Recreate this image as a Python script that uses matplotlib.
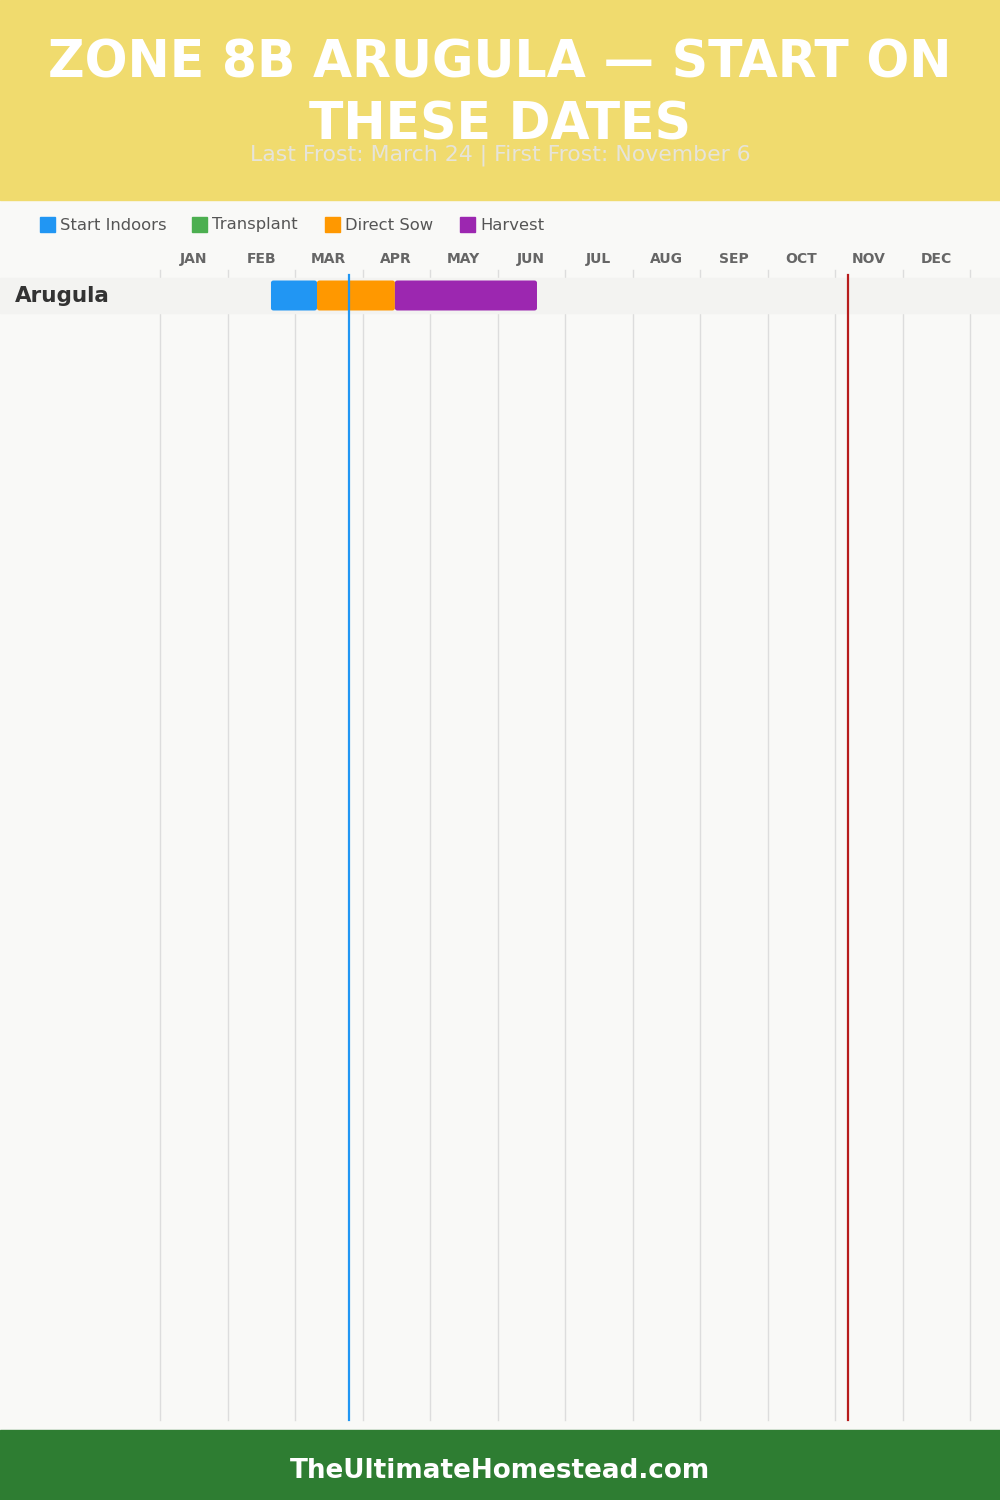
import matplotlib
matplotlib.use("Agg")
import matplotlib.pyplot as plt
from matplotlib.patches import Rectangle, FancyBboxPatch

# ---------------- data ----------------
title_lines = ["ZONE 8B ARUGULA — START ON", "THESE DATES"]
subtitle = "Last Frost: March 24 | First Frost: November 6"
footer = "TheUltimateHomestead.com"
months = ["JAN", "FEB", "MAR", "APR", "MAY", "JUN", "JUL", "AUG", "SEP", "OCT", "NOV", "DEC"]
legend_labels = ["Start Indoors", "Transplant", "Direct Sow", "Harvest"]
legend_colors = ["#2196F3", "#4CAF50", "#FF9800", "#9C27B0"]
crops = ["Arugula"]
# phases per crop, positions in months from Jan 1
phase_names = ["Start Indoors", "Direct Sow", "Harvest"]
phase_start = [1.644, 2.326, 3.48]
phase_end = [2.326, 3.48, 5.585]
last_frost_pos = 2.80
first_frost_pos = 10.19

# ---------------- layout ----------------
W, H = 1000, 1500
X0, MW = 160, 67.5  # px of Jan 1, px per month

fig = plt.figure(figsize=(W / 100, H / 100), dpi=100)
ax = fig.add_axes([0, 0, 1, 1])
ax.set_xlim(-X0 / MW, (W - X0) / MW)
ax.set_ylim(H, 0)
ax.axis("off")

def px(x):
    return (x - X0) / MW

xl, xr = ax.get_xlim()
# background
ax.add_patch(Rectangle((xl, 0), xr - xl, H, color="#F9F9F7", zorder=0))
# header
ax.add_patch(Rectangle((xl, 0), xr - xl, 200, color="#F0DB6E", zorder=1))
# footer
ax.add_patch(Rectangle((xl, 1430), xr - xl, 70, color="#2E7D32", zorder=1))

# grid lines (month boundaries)
for i in range(len(months) + 1):
    ax.plot([i, i], [270, 1420], color="#DDDDDD", lw=1, zorder=2)

# month labels
for i, m in enumerate(months):
    ax.text(i + 0.5, 259, m, ha="center", va="center", fontsize=10,
            fontweight="bold", color="#666666", family="DejaVu Sans", zorder=5)

# rows
row_h = 35
row_top0 = 278
bar_h = 30
for r, crop in enumerate(crops):
    top = row_top0 + r * row_h
    ax.add_patch(Rectangle((xl, top), xr - xl, row_h, color="#F3F3F1", zorder=3))
    ax.text(px(15), top + row_h / 2, crop, ha="left", va="center", fontsize=15.5,
            fontweight="bold", color="#333333", family="DejaVu Sans", zorder=5)
    yc = top + row_h / 2
    for s, e, n in zip(phase_start, phase_end, phase_names):
        col = legend_colors[legend_labels.index(n)]
        ax.add_patch(FancyBboxPatch((s, yc - bar_h / 2), e - s, bar_h,
                                    boxstyle="round,pad=0,rounding_size=0.04",
                                    mutation_aspect=bar_h / 0.55,
                                    facecolor=col, edgecolor="none", zorder=4))

# frost lines
ax.plot([last_frost_pos] * 2, [275, 1420], color="#2196F3", lw=1.6, zorder=4.5)
ax.plot([first_frost_pos] * 2, [275, 1420], color="#B71C1C", lw=1.6, zorder=4.5)

# legend
leg_x = [40, 192, 325, 460]
for x, lab, col in zip(leg_x, legend_labels, legend_colors):
    ax.add_patch(Rectangle((px(x), 217), 15 / MW, 15, color=col, zorder=5))
    ax.text(px(x + 20), 225, lab, ha="left", va="center", fontsize=11.8,
            color="#555555", family="DejaVu Sans", zorder=5)

renderer = fig.canvas.get_renderer()

def fit(t, width):
    w = t.get_window_extent(renderer).width
    t.set_fontsize(t.get_fontsize() * width / w)

# title
t1 = ax.text(px(500), 63, title_lines[0], ha="center", va="center", fontsize=38,
             fontweight="heavy", color="white", family="DejaVu Sans", zorder=6)
fit(t1, 904)
t2 = ax.text(px(500), 125, title_lines[1], ha="center", va="center",
             fontsize=t1.get_fontsize(), fontweight="heavy", color="white",
             family="DejaVu Sans", zorder=6)
t3 = ax.text(px(500), 155, subtitle, ha="center", va="center", fontsize=15,
             color="#E6E4DA", family="DejaVu Sans", zorder=7)
fit(t3, 502)

t4 = ax.text(px(500), 1471, footer, ha="center", va="center", fontsize=20,
             fontweight="bold", color="white", family="DejaVu Sans", zorder=6)
fit(t4, 420)

fig.savefig("out.png", dpi=100)
